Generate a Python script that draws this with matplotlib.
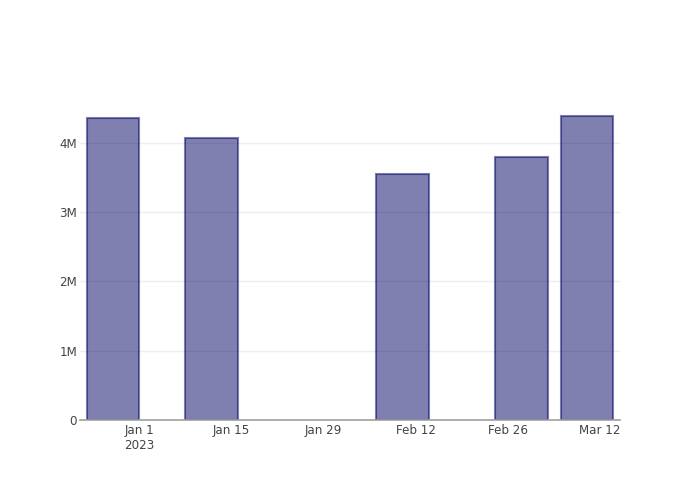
import pandas as pd
import matplotlib
matplotlib.use('Agg')
import matplotlib.pyplot as plt
from matplotlib.ticker import FuncFormatter

# data
dates = pd.to_datetime(['2022-12-28', '2023-01-12', '2023-02-10', '2023-02-28', '2023-03-10'])
values = [4.36e6, 4.07e6, 3.55e6, 3.80e6, 4.39e6]

tick_dates = pd.to_datetime(['2023-01-01', '2023-01-15', '2023-01-29', '2023-02-12', '2023-02-26', '2023-03-12'])
tick_labels = ['Jan 1\n2023', 'Jan 15', 'Jan 29', 'Feb 12', 'Feb 26', 'Mar 12']

fig = plt.figure(figsize=(7, 5), dpi=100)
ax = fig.add_axes([80/700, 80/500, 540/700, 320/500])

# bars 8 days wide, semi transparent like the original
ax.bar(dates, values, width=8, color='#000062', alpha=0.5, edgecolor='#000062', linewidth=1.5, zorder=3)

ax.set_xlim(pd.Timestamp('2022-12-23'), pd.Timestamp('2023-03-15'))
ax.set_ylim(0, 4.62e6)

ax.set_xticks(tick_dates)
ax.set_xticklabels(tick_labels)
ax.set_yticks([0, 1e6, 2e6, 3e6, 4e6])
ax.yaxis.set_major_formatter(FuncFormatter(lambda v, p: '0' if v == 0 else '%dM' % (v / 1e6)))

ax.grid(axis='y', color='#eeeeee', linewidth=1, zorder=0)
for s in ['top', 'right', 'left']:
    ax.spines[s].set_visible(False)
ax.spines['bottom'].set_color('#a0a0a0')
ax.spines['bottom'].set_linewidth(1.2)
ax.spines['bottom'].set_zorder(4)

ax.tick_params(length=0, labelsize=8.6, labelcolor='#444444')
ax.tick_params(axis='x', pad=3)
ax.tick_params(axis='y', pad=2)

fig.savefig('out.png', dpi=100)
